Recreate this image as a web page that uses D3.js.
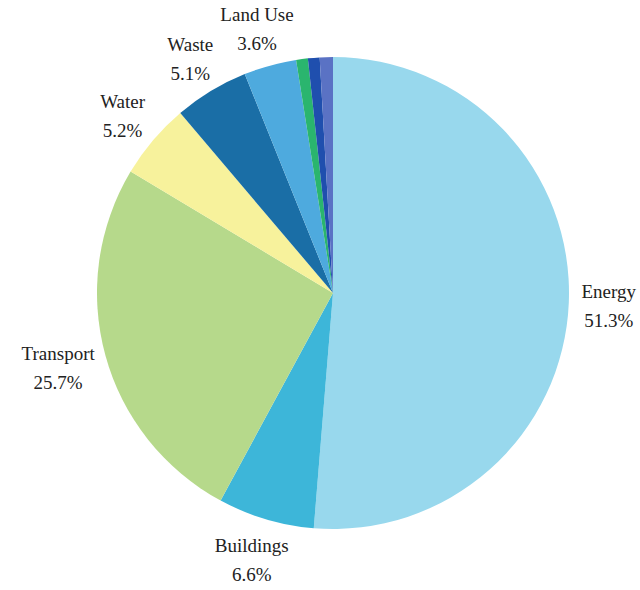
<!DOCTYPE html>
<html>
<head>
<meta charset="utf-8">
<script src="https://cdn.jsdelivr.net/npm/d3@7"></script>
<style>
  html, body { margin: 0; padding: 0; background: #fff; }
  svg { display: block; }
  text.lbl { font-family: "Liberation Serif", Tinos, serif; font-size: 19px; fill: #222; }
</style>
</head>
<body>
<svg id="chart" width="640" height="590"></svg>
<script>
// Share of emissions by sector, clockwise from 12 o'clock
const categories = ["Energy", "Buildings", "Transport", "Water", "Waste", "Land Use", "Other A", "Other B", "Other C"];
const values = [51.3, 6.6, 25.7, 5.2, 5.1, 3.6, 0.8, 0.8, 0.9];
const showLabel = [true, true, true, true, true, true, false, false, false];
const colors = ["#98d8ed", "#3db6d9", "#b6d98b", "#f7f29c", "#1a6ea6", "#4eaade", "#2ab56e", "#1f4fae", "#5a72c4"];

const svg = d3.select("#chart");
const cx = 333, cy = 293, radius = 236, labelRadius = 276;

const data = categories.map((c, i) => ({ name: c, value: values[i], color: colors[i], label: showLabel[i] }));

const pie = d3.pie().value(d => d.value).sort(null);
const arcs = pie(data);
const arc = d3.arc().innerRadius(0).outerRadius(radius);
const labelArc = d3.arc().innerRadius(labelRadius).outerRadius(labelRadius);

const g = svg.append("g").attr("transform", `translate(${cx},${cy})`);

g.selectAll("path.slice")
  .data(arcs)
  .join("path")
  .attr("class", "slice")
  .attr("d", arc)
  .attr("fill", d => d.data.color);

const fmt = d3.format(".1f");
const labels = g.selectAll("text.lbl")
  .data(arcs.filter(d => d.data.label))
  .join("text")
  .attr("class", "lbl")
  .attr("text-anchor", "middle");

labels.append("tspan").attr("x", 0).attr("y", -6).text(d => d.data.name);
labels.append("tspan").attr("x", 0).attr("y", 23).text(d => fmt(d.data.value) + "%");

// Wide labels are pushed further out sideways so they clear the rim
labels.attr("transform", function(d) {
  const [x, y] = labelArc.centroid(d);
  const mid = (d.startAngle + d.endAngle) / 2;
  const w = this.getBBox().width;
  const dx = Math.max(0, w / 2 - 28) * Math.sin(mid);
  return `translate(${x + dx},${y})`;
});
</script>
</body>
</html>
